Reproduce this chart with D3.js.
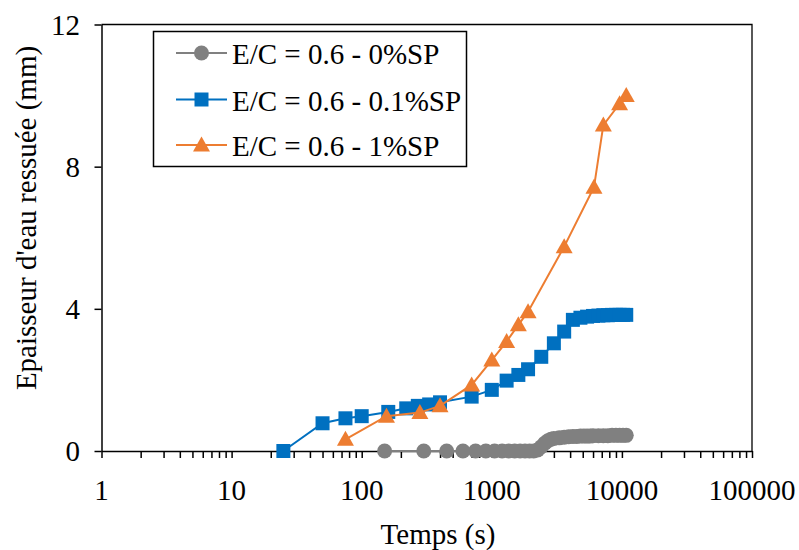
<!DOCTYPE html>
<html>
<head>
<meta charset="utf-8">
<script src="https://cdn.jsdelivr.net/npm/d3@7"></script>
<style>
  html, body { margin: 0; padding: 0; background: #fff; }
  svg { display: block; }
</style>
</head>
<body>
<svg id="chart" width="799" height="550"></svg>
<script>
// ---- data ----
const seriesNames = ["E/C = 0.6 - 0%SP", "E/C = 0.6 - 0.1%SP", "E/C = 0.6 - 1%SP"];
const seriesColors = ["#808080", "#0070C0", "#ED7D31"];

const grayTime = [150, 300, 450, 600, 750, 900, 1050, 1200, 1350, 1500, 1650, 1800, 1950, 2100, 2250, 2400, 2550, 2700, 2850, 3000, 3300, 3600, 3900, 4200, 4500, 4800, 5100, 5400, 5700, 6000, 6600, 7200, 7800, 8400, 9000, 9600, 10200, 10800];
const grayValue = [0, 0, 0, 0, 0, 0, 0, 0, 0, 0, 0, 0, 0, 0, 0.03, 0.12, 0.22, 0.29, 0.33, 0.35, 0.37, 0.39, 0.40, 0.41, 0.41, 0.42, 0.42, 0.42, 0.42, 0.43, 0.43, 0.43, 0.43, 0.44, 0.44, 0.44, 0.44, 0.44];

const blueTime = [25, 50, 75, 100, 160, 220, 270, 330, 400, 700, 1000, 1300, 1600, 1900, 2400, 3000, 3600, 4200, 4800, 5400, 6000, 6600, 7200, 7800, 8400, 9000, 9600, 10200, 10800];
const blueValue = [0, 0.78, 0.92, 0.98, 1.10, 1.20, 1.27, 1.31, 1.37, 1.53, 1.72, 1.98, 2.14, 2.30, 2.65, 3.03, 3.36, 3.69, 3.75, 3.78, 3.80, 3.81, 3.82, 3.82, 3.83, 3.83, 3.83, 3.83, 3.83];

const orangeTime = [75, 155, 280, 400, 700, 1000, 1300, 1600, 1900, 3600, 6100, 7200, 9600, 10800];
const orangeValue = [0.33, 0.98, 1.08, 1.27, 1.86, 2.56, 3.08, 3.55, 3.92, 5.75, 7.42, 9.17, 9.77, 10.0];

const xTickLabels = ["1", "10", "100", "1000", "10000", "100000"];
const yTicks = [0, 4, 8, 12];
const xTitle = "Temps (s)";
const yTitle = "Epaisseur d'eau ressuée (mm)";

// ---- pick an installed serif font ----
function pickFont(cands) {
  const c = document.createElement("canvas").getContext("2d");
  const s = "Temps (s) mmmWWWiii 0123456789";
  const w = f => { c.font = "40px " + f; return c.measureText(s).width; };
  const wm = w("monospace"), ws = w("sans-serif");
  for (const f of cands) {
    if (w(`"${f}", monospace`) !== wm || w(`"${f}", sans-serif`) !== ws) return `"${f}", serif`;
  }
  return "serif";
}
const FONT = pickFont(["Liberation Serif", "Times New Roman", "Tinos", "Nimbus Roman", "Nimbus Roman No9 L", "FreeSerif", "DejaVu Serif", "Noto Serif"]);

// ---- layout ----
const L = 101.5, R = 752, T = 24.5, B = 451;
const FS = 29;

const svg = d3.select("#chart").attr("font-family", FONT);
const x = d3.scaleLog().domain([1, 100000]).range([L, R]);
const y = d3.scaleLinear().domain([0, 12]).range([B, T]);

// frame (top & right)
svg.append("path")
  .attr("d", `M${L},${T}H${R}V${B}`)
  .attr("fill", "none").attr("stroke", "#000").attr("stroke-width", 1.3);

// x axis with minor ticks
const xTickVals = [];
for (let d = 0; d < 5; d++) for (let m = 1; m <= 9; m++) xTickVals.push(m * Math.pow(10, d));
xTickVals.push(100000);
const xAxis = d3.axisBottom(x).tickValues(xTickVals).tickSize(7).tickSizeOuter(0).tickFormat(() => "");
const gx = svg.append("g").attr("transform", `translate(0,${B})`).call(xAxis);
gx.selectAll("path, line").attr("stroke", "#000").attr("stroke-width", 1.5);

svg.append("g").selectAll("text").data(xTickLabels).join("text")
  .attr("x", d => x(+d)).attr("y", 500)
  .attr("text-anchor", "middle").attr("font-size", FS).attr("font-family", FONT).text(d => d);

// y axis
const yAxis = d3.axisLeft(y).tickValues(yTicks).tickSize(7).tickSizeOuter(0).tickFormat(() => "");
const gy = svg.append("g").attr("transform", `translate(${L},0)`).call(yAxis);
gy.selectAll("path, line").attr("stroke", "#000").attr("stroke-width", 1.5);
svg.append("g").selectAll("text").data(yTicks).join("text")
  .attr("x", 80).attr("y", d => y(d) + 10)
  .attr("text-anchor", "end").attr("font-size", FS).attr("font-family", FONT).text(d => d);

// titles
svg.append("text").attr("x", 438).attr("y", 544).attr("text-anchor", "middle")
  .attr("font-size", FS).attr("font-family", FONT).text(xTitle);
svg.append("text").attr("transform", `translate(36,218) rotate(-90)`).attr("text-anchor", "middle")
  .attr("font-size", FS).attr("font-family", FONT).text(yTitle);

// series
const series = [
  { t: grayTime, v: grayValue, shape: "circle" },
  { t: blueTime, v: blueValue, shape: "square" },
  { t: orangeTime, v: orangeValue, shape: "triangle" }
];
const triPath = "M0,-8.5L8.5,6.5L-8.5,6.5Z";
const symbolFor = {
  circle: d3.symbol().type(d3.symbolCircle).size(Math.PI * 7.5 * 7.5)(),
  square: d3.symbol().type(d3.symbolSquare).size(14 * 14)(),
  triangle: triPath
};
const line = d3.line().x(d => x(d[0])).y(d => y(d[1]));

series.forEach((s, i) => {
  const pts = s.t.map((t, k) => [t, s.v[k]]);
  const g = svg.append("g");
  g.append("path").datum(pts).attr("d", line)
    .attr("fill", "none").attr("stroke", seriesColors[i]).attr("stroke-width", 2);
  g.selectAll("path.m").data(pts).join("path").attr("class", "m")
    .attr("d", symbolFor[s.shape])
    .attr("transform", d => `translate(${x(d[0])},${y(d[1])})`)
    .attr("fill", seriesColors[i]);
});

// legend
const lg = svg.append("g");
lg.append("rect").attr("x", 153.5).attr("y", 31.5).attr("width", 313).attr("height", 135)
  .attr("fill", "#fff").attr("stroke", "#000").attr("stroke-width", 1.5);
const rowY = [53, 99.5, 145];
seriesNames.forEach((name, i) => {
  lg.append("line").attr("x1", 176).attr("x2", 227).attr("y1", rowY[i]).attr("y2", rowY[i])
    .attr("stroke", seriesColors[i]).attr("stroke-width", 2);
  lg.append("path").attr("d", symbolFor[series[i].shape])
    .attr("transform", `translate(201.5,${rowY[i]})`)
    .attr("fill", seriesColors[i]);
  lg.append("text").attr("x", 232).attr("y", rowY[i] + 11).attr("font-size", FS).attr("font-family", FONT).text(name);
});
</script>
</body>
</html>
